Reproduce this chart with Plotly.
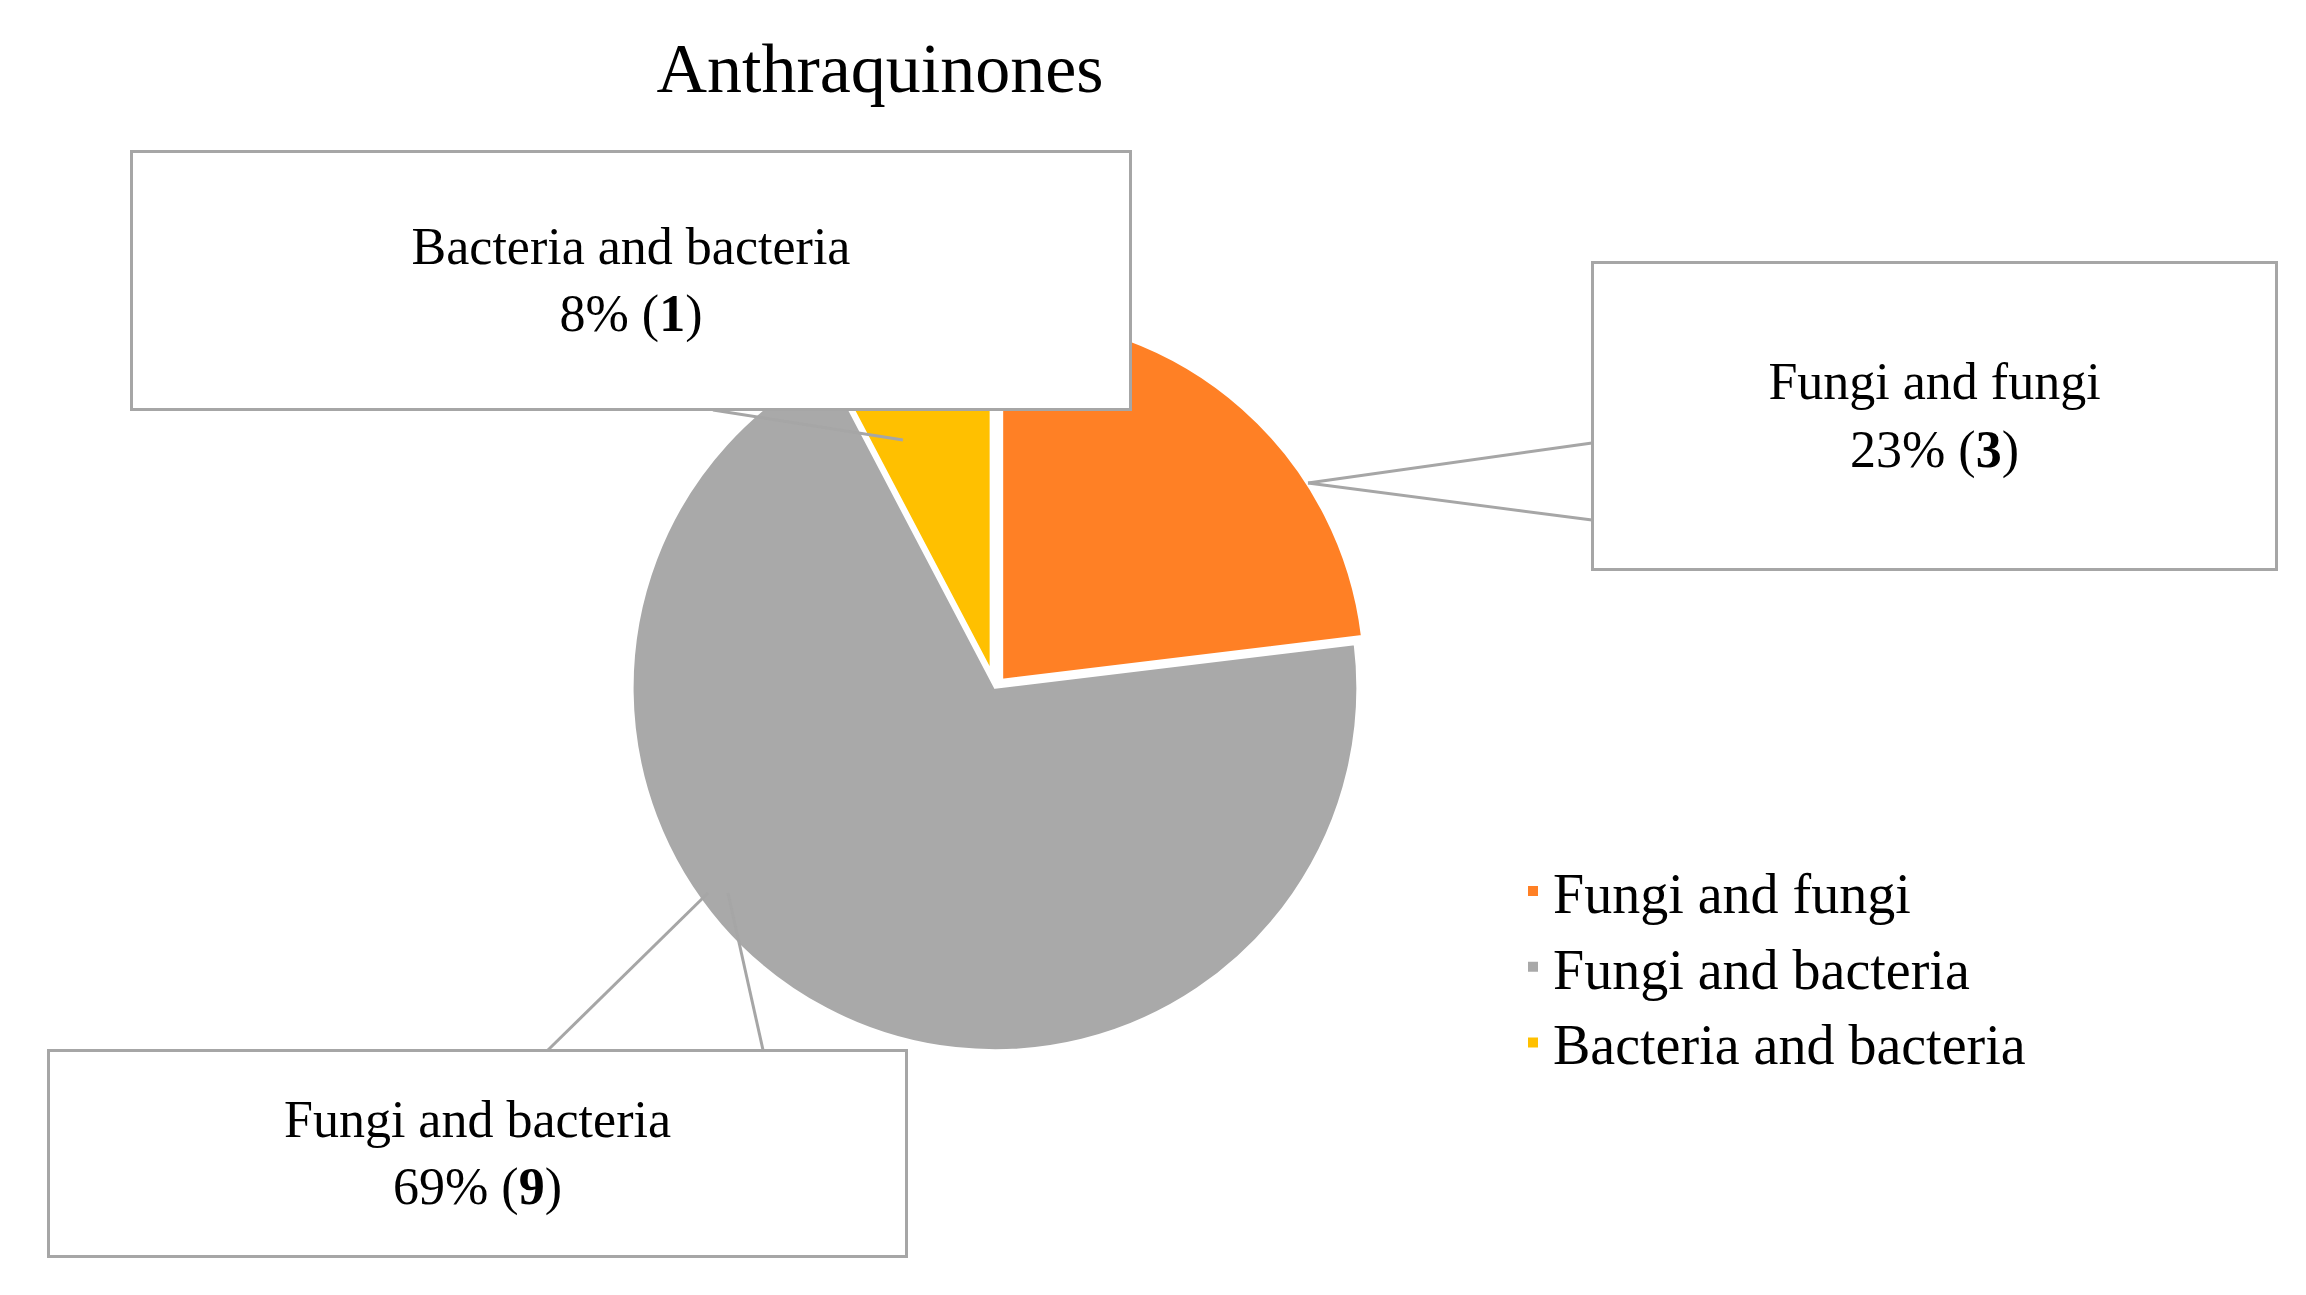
import plotly.graph_objects as go

labels = ["Fungi and fungi", "Fungi and bacteria", "Bacteria and bacteria"]
counts = [3, 9, 1]
percents = ["23%", "69%", "8%"]
colors = ["#FF8025", "#A9A9A9", "#FFC000"]

W, H = 2306, 1295
font = "Liberation Serif"

fig = go.Figure(go.Pie(
    labels=labels, values=counts, sort=False, direction="clockwise", rotation=0,
    marker=dict(colors=colors, line=dict(color="white", width=2)),
    pull=[0.03, 0, 0.05], textinfo="none", hoverinfo="label+value",
    domain=dict(x=[0.263, 0.593], y=[0.18, 0.77]),
))

def px(x, y):
    return x / W, 1 - y / H

boxes = [
    (2, (123, 143, 1123, 402)),
    (0, (1584, 254, 2269, 562)),
    (1, (40, 1042, 899, 1249)),
]
for i, (x0, y0, x1, y1) in boxes:
    cx, cy = px((x0 + x1) / 2, (y0 + y1) / 2)
    fig.add_annotation(
        x=cx, y=cy, xref="paper", yref="paper", showarrow=False,
        xanchor="center", yanchor="middle",
        text=f"{labels[i]}<br>{percents[i]} (<b>{counts[i]}</b>)",
        width=x1 - x0 - 6, height=y1 - y0 - 6, bgcolor="white",
        bordercolor="#A6A6A6", borderwidth=3,
        font=dict(family=font, size=52, color="black"), align="center",
    )

leaders = [
    [(705, 402), (895, 432)],
    [(1584, 435), (1300, 475), (1584, 512)],
    [(540, 1042), (700, 885)],
    [(755, 1042), (720, 885)],
]
for pts in leaders:
    for (a, b) in zip(pts[:-1], pts[1:]):
        xa, ya = px(*a); xb, yb = px(*b)
        fig.add_shape(type="line", xref="paper", yref="paper", x0=xa, y0=ya, x1=xb, y1=yb,
                      line=dict(color="#A6A6A6", width=3))

fig.update_layout(
    width=W, height=H, margin=dict(l=0, r=0, t=0, b=0),
    paper_bgcolor="white", plot_bgcolor="white",
    title=dict(text="Anthraquinones", x=872 / W, y=1 - 59 / H, xanchor="center", yanchor="middle",
               font=dict(family=font, size=70, color="black")),
    legend=dict(x=1505 / W, y=1 - 840 / H, xanchor="left", yanchor="top",
                font=dict(family=font, size=56, color="black"),
                itemsizing="constant"),
    showlegend=True,
)
fig.write_html("out.html")
